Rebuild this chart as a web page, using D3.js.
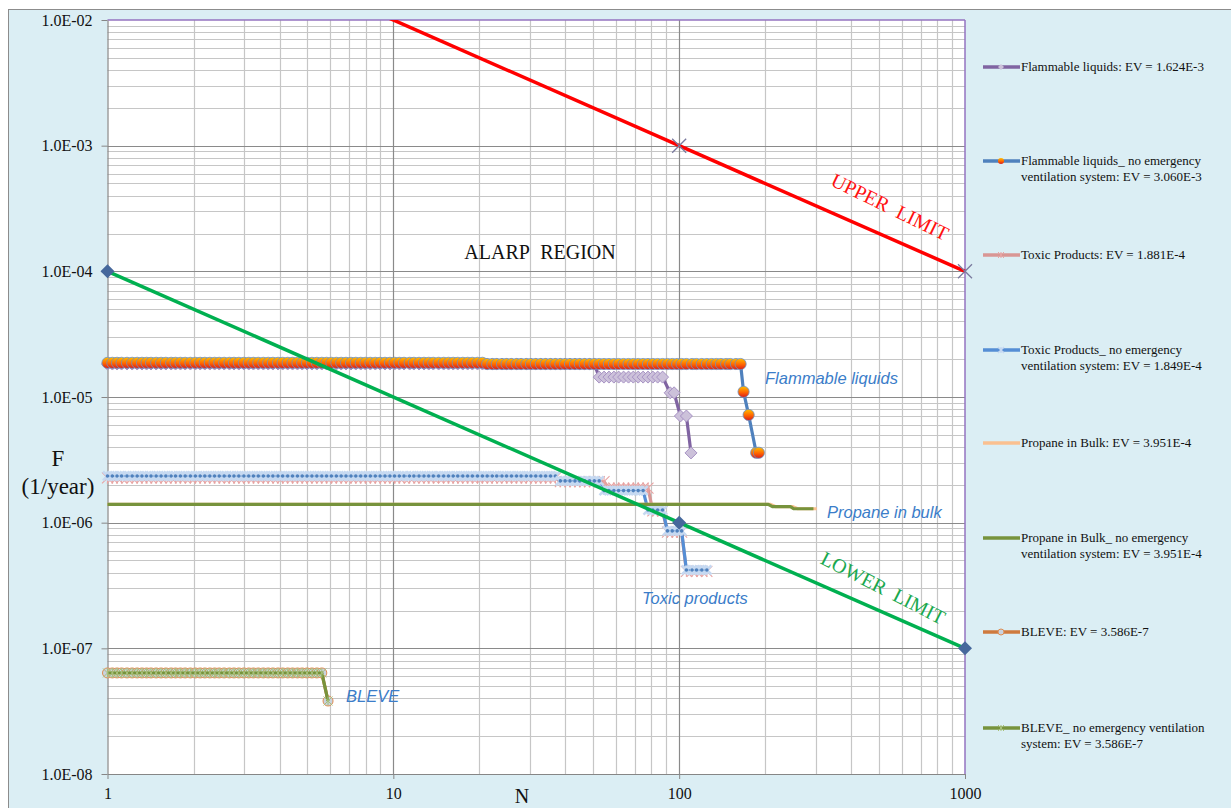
<!DOCTYPE html>
<html>
<head>
<meta charset="utf-8">
<script src="https://cdn.jsdelivr.net/npm/d3@7"></script>
<style>
  body { margin: 0; background: #fff; }
</style>
</head>
<body>
<svg id="chart" width="1231" height="808" font-family="Liberation Serif, Times New Roman, serif"></svg>
<script>
// tick values / labels
var xTicks = [1, 10, 100, 1000];
var xTickLabels = ["1", "10", "100", "1000"];
var yTicks = [1e-8, 1e-7, 1e-6, 1e-5, 1e-4, 1e-3, 1e-2];
var yTickLabels = ["1.0E-08", "1.0E-07", "1.0E-06", "1.0E-05", "1.0E-04", "1.0E-03", "1.0E-02"];

// N values where the curves carry a marker
var nGrid = [1.00,1.04,1.08,1.12,1.17,1.22,1.27,1.32,1.37,1.42,
  1.48,1.54,1.60,1.67,1.73,1.80,1.87,1.95,2.03,2.11,
  2.19,2.28,2.37,2.46,2.56,2.67,2.77,2.88,3.00,3.12,
  3.24,3.37,3.51,3.65,3.79,3.95,4.10,4.27,4.44,4.62,
  4.80,4.99,5.19,5.40,5.62,5.84,6.07,6.32,6.57,6.83,
  7.11,7.39,7.69,7.99,8.31,8.65,8.99,9.35,9.73,10.1,
  10.5,10.9,11.4,11.8,12.3,12.8,13.3,13.8,14.4,15.0,
  15.6,16.2,16.8,17.5,18.2,18.9,19.7,20.5,21.3,22.2,
  23.0,24.0,24.9,25.9,27.0,28.0,29.2,30.3,31.5,32.8,
  34.1,35.5,36.9,38.4,39.9,41.5,43.2,44.9,46.7,48.6,
  50.5,52.5,54.6,56.8,59.1,61.4,63.9,66.5,69.1,71.9,
  74.8,77.8,80.9,84.1,87.5,91.0,94.6,98.4,102,106,
  111,115,120,125,130,135,140,146,151,158,164];

// each series: flat runs [Nfrom, Nto, F] over nGrid + explicit tail points [N, F]
var flamSteps = [[1, 50.5, 1.83e-5], [52.5, 87.5, 1.44e-5]];
var flamTail = [[93, 1.08e-5], [96, 1.08e-5], [101, 7.06e-6], [106, 7.06e-6], [110, 3.59e-6]];

var flamNoEvSteps = [[1, 20.5, 1.87e-5], [21.3, 164, 1.83e-5]];
var flamNoEvTail = [[168, 1.10e-5], [175, 7.2e-6], [186, 3.6e-6], [190, 3.6e-6]];

var toxicSteps = [[1, 36.9, 2.27e-6], [38.4, 54.6, 2.12e-6], [56.8, 77.8, 1.88e-6], [80.9, 87.5, 1.24e-6], [91, 102, 8.4e-7], [106, 125, 4.1e-7]];
var toxicTail = [];

var toxicNoEvSteps = [[1, 36.9, 2.35e-6], [38.4, 52.5, 2.15e-6], [54.6, 74.8, 1.80e-6], [77.8, 87.5, 1.26e-6], [91, 102, 8.6e-7], [106, 125, 4.2e-7]];
var toxicNoEvTail = [];

var propaneN = [1, 208, 218, 250, 260, 303];
var propaneF = [1.40e-6, 1.40e-6, 1.34e-6, 1.34e-6, 1.29e-6, 1.29e-6];
var propaneNoEvN = [1, 205, 212, 245, 252, 295];
var propaneNoEvF = [1.40e-6, 1.40e-6, 1.34e-6, 1.34e-6, 1.29e-6, 1.29e-6];

var bleveSteps = [[1, 5.62, 6.37e-8]];
var bleveTail = [[5.91, 3.81e-8]];

var upperN = [1, 100, 1000];
var upperF = [1e-1, 1e-3, 1e-4];
var lowerN = [1, 100, 1000];
var lowerF = [1e-4, 1e-6, 1e-7];

var legendLabels = [
  ["Flammable liquids: EV = 1.624E-3"],
  ["Flammable liquids_ no emergency", "ventilation system: EV = 3.060E-3"],
  ["Toxic Products: EV = 1.881E-4"],
  ["Toxic Products_ no emergency", "ventilation system: EV = 1.849E-4"],
  ["Propane in Bulk: EV = 3.951E-4"],
  ["Propane in Bulk_ no emergency", "ventilation system: EV = 3.951E-4"],
  ["BLEVE: EV = 3.586E-7"],
  ["BLEVE_ no emergency ventilation", "system: EV = 3.586E-7"]
];

function build(steps, tail) {
  var pts = [];
  steps.forEach(s => {
    nGrid.filter(n => n >= s[0] && n <= s[1]).forEach(n => pts.push([n, s[2]]));
  });
  return pts.concat(tail);
}
function zip(ns, fs) { return ns.map((n, i) => [n, fs[i]]); }

var svg = d3.select("#chart");
var pLeft = 107.5, pRight = 965, pTop = 20, pBottom = 774;

var x = d3.scaleLog().domain([1, 1000]).range([pLeft, pRight]);
var y = d3.scaleLog().domain([1e-8, 1e-2]).range([pBottom, pTop]);

var defs = svg.append("defs");
var grad = defs.append("linearGradient").attr("id", "orb")
  .attr("x1", 0).attr("y1", 0).attr("x2", 0).attr("y2", 1);
grad.append("stop").attr("offset", "0%").attr("stop-color", "#ffc000");
grad.append("stop").attr("offset", "55%").attr("stop-color", "#ff6400");
grad.append("stop").attr("offset", "100%").attr("stop-color", "#d81c1c");
defs.append("clipPath").attr("id", "plotClip")
  .append("rect").attr("x", 0).attr("y", pTop).attr("width", 1231).attr("height", 808 - pTop);

// chart area
svg.append("rect").attr("x", 8.5).attr("y", 9.5).attr("width", 1240).attr("height", 820)
  .attr("fill", "#dbeef4").attr("stroke", "#8c8c8c");
svg.append("rect").attr("x", pLeft).attr("y", pTop).attr("width", pRight - pLeft).attr("height", pBottom - pTop)
  .attr("fill", "#fff");

// grid
var grid = svg.append("g");
var minorX = [], minorY = [];
[1, 10, 100].forEach(d => { for (var m = 2; m <= 9; m++) minorX.push(d * m); });
[1e-8, 1e-7, 1e-6, 1e-5, 1e-4, 1e-3].forEach(d => { for (var m = 2; m <= 9; m++) minorY.push(d * m); });
grid.selectAll(".mx").data(minorX).enter().append("line")
  .attr("x1", d => Math.round(x(d)) + 0.5).attr("x2", d => Math.round(x(d)) + 0.5)
  .attr("y1", pTop).attr("y2", pBottom).attr("stroke", "#c6c6c6").attr("stroke-width", 1.2);
grid.selectAll(".my").data(minorY).enter().append("line")
  .attr("y1", d => Math.round(y(d)) + 0.5).attr("y2", d => Math.round(y(d)) + 0.5)
  .attr("x1", pLeft).attr("x2", pRight).attr("stroke", "#c6c6c6").attr("stroke-width", 1.2);
grid.selectAll(".Mx").data(xTicks.slice(1, 3)).enter().append("line")
  .attr("x1", d => Math.round(x(d)) + 0.5).attr("x2", d => Math.round(x(d)) + 0.5)
  .attr("y1", pTop).attr("y2", pBottom).attr("stroke", "#8a8a8a").attr("stroke-width", 1.2);
grid.selectAll(".My").data(yTicks.slice(1, 6)).enter().append("line")
  .attr("y1", d => Math.round(y(d)) + 0.5).attr("y2", d => Math.round(y(d)) + 0.5)
  .attr("x1", pLeft).attr("x2", pRight).attr("stroke", "#8a8a8a").attr("stroke-width", 1.2);

// plot border (purple top/right)
svg.append("line").attr("x1", pLeft).attr("x2", pRight).attr("y1", pTop).attr("y2", pTop)
  .attr("stroke", "#9473c0").attr("stroke-width", 1.5);
svg.append("line").attr("x1", pRight).attr("x2", pRight).attr("y1", pTop).attr("y2", pBottom)
  .attr("stroke", "#9473c0").attr("stroke-width", 1.5);

// axes
var yAxis = svg.append("g").attr("transform", `translate(${pLeft},0)`)
  .call(d3.axisLeft(y).tickValues(yTicks).tickFormat((d, i) => yTickLabels[i]).tickSize(6).tickPadding(9).tickSizeOuter(0));
var xAxis = svg.append("g").attr("transform", `translate(0,${pBottom})`)
  .call(d3.axisBottom(x).tickValues(xTicks).tickFormat((d, i) => xTickLabels[i]).tickSize(5).tickPadding(9).tickSizeOuter(0));
[yAxis, xAxis].forEach(a => {
  a.attr("font-family", null).attr("font-size", null);
  a.select(".domain").attr("stroke", "#868686").attr("stroke-width", 1.2);
  a.selectAll(".tick line").attr("stroke", "#868686");
  a.selectAll("text").attr("font-size", 16).attr("fill", "#111");
});

// axis titles
svg.append("text").attr("x", 58).attr("y", 466).attr("text-anchor", "middle")
  .attr("font-size", 23).attr("fill", "#111").text("F");
svg.append("text").attr("x", 58).attr("y", 494).attr("text-anchor", "middle")
  .attr("font-size", 23).attr("fill", "#111").text("(1/year)");
svg.append("text").attr("x", 522).attr("y", 803).attr("text-anchor", "middle")
  .attr("font-size", 20).attr("fill", "#111").text("N");

// markers
var line = d3.line().x(d => x(d[0])).y(d => y(d[1]));
function starPath(r) { return `M${-r},${-r}L${r},${r}M${-r},${r}L${r},${-r}M0,${-r}L0,${r}`; }
function xPath(r) { return `M${-r},${-r}L${r},${r}M${-r},${r}L${r},${-r}`; }

var markers = {
  diamond: function (g) {
    g.append("path").attr("d", "M0,-6L6,0L0,6L-6,0Z").attr("fill", "#ccc1da").attr("stroke", "#a792c4").attr("stroke-width", 1);
  },
  orb: function (g) {
    g.append("circle").attr("r", 5.6).attr("fill", "url(#orb)").attr("stroke", "#6f8fbf").attr("stroke-width", 0.8);
  },
  pinkStar: function (g) {
    g.append("path").attr("d", starPath(5.5)).attr("stroke", "#e8a3a2").attr("stroke-width", 1.1).attr("fill", "none");
  },
  blueStar: function (g) {
    g.append("path").attr("d", starPath(4.5)).attr("stroke", "#c6d9f1").attr("stroke-width", 2.6).attr("fill", "none");
    g.append("circle").attr("r", 1.8).attr("fill", "#4f81bd");
  },
  bleveCircle: function (g) {
    g.append("circle").attr("r", 5).attr("fill", "#c9d3df").attr("stroke", "#e08c50").attr("stroke-width", 1);
  },
  greenStar: function (g) {
    g.append("path").attr("d", starPath(4.5)).attr("stroke", "#a8c07a").attr("stroke-width", 1).attr("fill", "none");
  },
  limitX: function (g) {
    g.append("path").attr("d", xPath(7)).attr("stroke", "#7a7a9e").attr("stroke-width", 1.3).attr("fill", "none");
  },
  limitDiamond: function (g) {
    g.append("path").attr("d", "M0,-7L7,0L0,7L-7,0Z").attr("fill", "#46689c");
  }
};

function drawSeries(pts, color, width, marker, clip) {
  var g = svg.append("g");
  if (clip) g.attr("clip-path", "url(#plotClip)");
  g.append("path").datum(pts).attr("d", line).attr("fill", "none")
    .attr("stroke", color).attr("stroke-width", width).attr("stroke-linejoin", "round");
  if (marker) {
    g.selectAll(".mk").data(pts).enter().append("g")
      .attr("transform", d => `translate(${x(d[0])},${y(d[1])})`)
      .each(function () { markers[marker](d3.select(this)); });
  }
}

var series = [
  { pts: build(flamSteps, flamTail), color: "#8064a2", marker: "diamond" },
  { pts: build(flamNoEvSteps, flamNoEvTail), color: "#4f81bd", marker: "orb" },
  { pts: build(toxicSteps, toxicTail), color: "#d99694", marker: "pinkStar" },
  { pts: build(toxicNoEvSteps, toxicNoEvTail), color: "#558ed5", marker: "blueStar" },
  { pts: zip(propaneN, propaneF), color: "#fac090", marker: null },
  { pts: zip(propaneNoEvN, propaneNoEvF), color: "#77933c", marker: null },
  { pts: build(bleveSteps, bleveTail), color: "#cf7a3e", marker: "bleveCircle" },
  { pts: build(bleveSteps, bleveTail), color: "#77933c", marker: "greenStar" }
];
series.forEach(s => drawSeries(s.pts, s.color, 3.2, s.marker, false));

drawSeries(zip(upperN, upperF), "#ff0000", 3.5, "limitX", true);
drawSeries(zip(lowerN, lowerF), "#00b050", 3.5, "limitDiamond", false);

// annotations
svg.append("text").attr("x", 540).attr("y", 259).attr("text-anchor", "middle")
  .attr("font-size", 20).attr("word-spacing", 6).attr("fill", "#111").text("ALARP REGION");
svg.append("text").attr("transform", "translate(887,213) rotate(26)").attr("text-anchor", "middle")
  .attr("font-size", 20).attr("word-spacing", 5).attr("fill", "#ff1010").text("UPPER LIMIT");
svg.append("text").attr("transform", "translate(880,594) rotate(27)").attr("text-anchor", "middle")
  .attr("font-size", 20).attr("word-spacing", 5).attr("fill", "#1aa84e").text("LOWER LIMIT");

var notes = [
  ["Flammable liquids", 765, 384],
  ["Propane in bulk", 827, 518],
  ["Toxic products", 642, 604],
  ["BLEVE", 346, 702]
];
svg.selectAll(".note").data(notes).enter().append("text")
  .attr("x", d => d[1]).attr("y", d => d[2])
  .attr("font-family", "Liberation Sans, Arial, sans-serif").attr("font-style", "italic")
  .attr("font-size", 16.5).attr("fill", "#3b7dc9").text(d => d[0]);

// legend
var legendY = [67, 161, 255, 350, 443, 538, 632, 728];
var legendColors = series.map(s => s.color);
var legendMarkers = ["diamondSmall", "orbSmall", "pinkSmall", "blueSmall", null, null, "bleveSmall", "greenSmall"];
var lg = svg.append("g");
legendLabels.forEach((lab, i) => {
  var g = lg.append("g").attr("transform", `translate(0,${legendY[i]})`);
  g.append("line").attr("x1", 983).attr("x2", 1020).attr("stroke", legendColors[i]).attr("stroke-width", 3.5);
  var m = legendMarkers[i];
  var mg = g.append("g").attr("transform", "translate(1001,0)");
  if (m === "diamondSmall") mg.append("path").attr("d", "M0,-3L3,0L0,3L-3,0Z").attr("fill", "#ccc1da");
  if (m === "orbSmall") mg.append("circle").attr("r", 3).attr("fill", "url(#orb)");
  if (m === "pinkSmall") mg.append("path").attr("d", starPath(3)).attr("stroke", "#e8a3a2").attr("stroke-width", 1);
  if (m === "blueSmall") mg.append("path").attr("d", starPath(3)).attr("stroke", "#c6d9f1").attr("stroke-width", 1.5);
  if (m === "bleveSmall") mg.append("circle").attr("r", 3).attr("fill", "#c9d3df").attr("stroke", "#e08c50");
  if (m === "greenSmall") mg.append("path").attr("d", starPath(3)).attr("stroke", "#a8c07a").attr("stroke-width", 1);
  lab.forEach((t, j) => {
    g.append("text").attr("x", 1021).attr("y", 4 + j * 15.5)
      .attr("font-size", 13).attr("fill", "#111").text(t);
  });
});
</script>
</body>
</html>
